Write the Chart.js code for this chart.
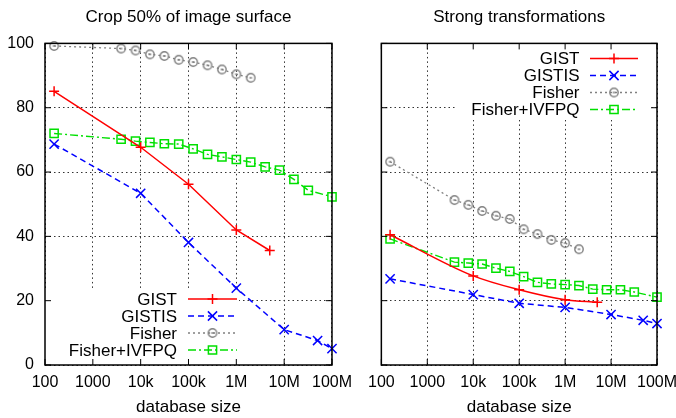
<!DOCTYPE html>
<html>
<head>
<meta charset="utf-8">
<script src="https://cdn.jsdelivr.net/npm/chart.js@4/dist/chart.umd.min.js"></script>
<style>
  html, body { margin: 0; padding: 0; background: #fff; overflow: hidden; }
  #wrap { position: relative; width: 676px; height: 418px; overflow: hidden; }
  .panel { position: absolute; top: 0; height: 418px; }
</style>
</head>
<body>
<div id="wrap">
  <div class="panel" style="left:0;width:360px"><canvas id="leftChart"></canvas></div>
  <div class="panel" style="left:360px;width:330px"><canvas id="rightChart"></canvas></div>
</div>
<script>
// Axis ticks
const xTickValues = [1e2, 1e3, 1e4, 1e5, 1e6, 1e7, 1e8];
const xTickLabels = ['100', '1000', '10k', '100k', '1M', '10M', '100M'];
const yTickValues = [0, 20, 40, 60, 80, 100];

// Database sizes per series
const gistSizes = [155, 10000, 100000, 1000000, 5000000];
const gistisSizes = [155, 10000, 100000, 1000000, 10000000, 50000000, 100000000];
const fisherSizes = [155, 3900, 7800, 15600, 31250, 62500, 125000, 250000, 500000, 1000000, 2000000];
const ivfpqSizes = [155, 3900, 7800, 15600, 31250, 62500, 125000, 250000, 500000, 1000000, 2000000,
                    4000000, 8000000, 16000000, 32000000, 100000000];

// Crop 50% of image surface
const gistCrop = [85.1, 67.7, 56.2, 42.0, 35.6];
const gistisCrop = [68.7, 53.4, 38.1, 23.9, 11.0, 7.6, 5.1];
const fisherCrop = [99.2, 98.4, 97.8, 96.6, 96.1, 94.9, 94.2, 93.2, 91.9, 90.4, 89.3];
const ivfpqCrop = [72.0, 70.2, 69.6, 69.2, 68.8, 68.7, 67.2, 65.5, 64.7, 63.9, 63.1, 61.6, 60.6, 57.7, 54.3, 52.3];

// Strong transformations
const gistStrong = [40.5, 27.7, 23.4, 20.3, 19.5];
const gistisStrong = [26.8, 21.9, 19.2, 17.9, 15.7, 13.9, 12.9];
const fisherStrong = [63.2, 51.3, 49.8, 47.9, 46.4, 45.4, 42.2, 40.7, 38.9, 37.9, 36.0];
const ivfpqStrong = [39.2, 32.0, 31.7, 31.4, 30.1, 29.1, 27.5, 25.7, 25.2, 25.0, 24.7, 23.6, 23.4, 23.4, 22.7, 21.1];

const seriesNames = ['GIST', 'GISTIS', 'Fisher', 'Fisher+IVFPQ'];

const FONT = 'Liberation Sans, Arial, Helvetica, sans-serif';

// open circle with a little dash inside, like gnuplot's point type
const circleMark = document.createElement('canvas');
circleMark.width = 12; circleMark.height = 12;
(function () {
    const c = circleMark.getContext('2d');
    c.strokeStyle = '#808080';
    c.lineWidth = 1.4;
    c.beginPath(); c.arc(6, 6, 4.2, 0, Math.PI * 2); c.stroke();
    c.beginPath(); c.moveTo(4.6, 6); c.lineTo(7.4, 6); c.stroke();
})();

const seriesStyle = [
    { borderColor: '#ff0000', borderWidth: 1.5, borderDash: [], pointStyle: 'cross', pointRadius: 5 },
    { borderColor: '#0000ff', borderWidth: 1.5, borderDash: [6, 4], pointStyle: 'crossRot', pointRadius: 6.5 },
    { borderColor: '#808080', borderWidth: 1.3, borderDash: [2, 3], pointStyle: circleMark, pointRadius: 5 },
    { borderColor: '#00e000', borderWidth: 1.4, borderDash: [8, 3, 2, 3], pointStyle: 'rect', pointRadius: 5.8 }
];

function toPoints(xs, ys) {
    return xs.map((x, i) => ({ x: x, y: ys[i] }));
}

function makeDatasets(values, smoothRed) {
    const sizes = [gistSizes, gistisSizes, fisherSizes, ivfpqSizes];
    return seriesNames.map((name, i) => Object.assign({
        label: name,
        data: toPoints(sizes[i], values[i]),
        backgroundColor: 'rgba(0,0,0,0)',
        pointBorderColor: seriesStyle[i].borderColor,
        pointBorderWidth: 1.5,
        pointBackgroundColor: 'rgba(0,0,0,0)',
        fill: false,
        clip: false,
        cubicInterpolationMode: (smoothRed && i === 0) ? 'monotone' : 'default'
    }, seriesStyle[i]));
}

// gnuplot-like frame, inward tics, and key drawn inside the plot
const panelDecor = {
    id: 'panelDecor',
    beforeDatasetsDraw(chart, args, opts) {
        const ctx = chart.ctx;
        const m = opts.mask;
        ctx.save();
        ctx.fillStyle = '#fff';
        ctx.fillRect(m[0], m[1], m[2] - m[0], m[3] - m[1]);
        ctx.restore();
    },
    afterDatasetsDraw(chart, args, opts) {
        const ctx = chart.ctx;
        const k = opts.key;
        ctx.save();
        ctx.font = '17px ' + FONT;
        ctx.textAlign = 'right';
        ctx.textBaseline = 'middle';
        chart.data.datasets.forEach((ds, i) => {
            const y = k.y + i * k.step;
            ctx.fillStyle = '#000';
            ctx.fillText(ds.label, k.textRight, y + 1);
            ctx.strokeStyle = ds.borderColor;
            ctx.lineWidth = ds.borderWidth;
            ctx.setLineDash(ds.borderDash);
            ctx.beginPath();
            ctx.moveTo(k.lineFrom, y);
            ctx.lineTo(k.lineTo, y);
            ctx.stroke();
            ctx.setLineDash([]);
            ctx.lineWidth = 1.5;
            ctx.fillStyle = 'rgba(0,0,0,0)';
            Chart.helpers.drawPoint(ctx, {
                pointStyle: ds.pointStyle, radius: ds.pointRadius, rotation: 0, borderWidth: 1.5
            }, (k.lineFrom + k.lineTo) / 2, y);
        });
        ctx.restore();
    },
    afterDraw(chart) {
        const ctx = chart.ctx;
        const a = chart.chartArea;
        const xs = chart.scales.x, ys = chart.scales.y;
        const len = 6;
        ctx.save();
        ctx.strokeStyle = '#000';
        ctx.lineWidth = 1;
        ctx.beginPath();
        xTickValues.forEach(v => {
            const px = xs.getPixelForValue(v);
            ctx.moveTo(px, a.bottom); ctx.lineTo(px, a.bottom - len);
            ctx.moveTo(px, a.top); ctx.lineTo(px, a.top + len);
        });
        yTickValues.forEach(v => {
            const py = ys.getPixelForValue(v);
            ctx.moveTo(a.left, py); ctx.lineTo(a.left + len, py);
            ctx.moveTo(a.right, py); ctx.lineTo(a.right - len, py);
        });
        ctx.stroke();
        ctx.lineWidth = 1.5;
        ctx.strokeRect(a.left, a.top, a.right - a.left, a.bottom - a.top);
        ctx.restore();
    }
};

function makeChart(id, title, values, showY, yWidth, padRight, smoothRed, decor) {
    return new Chart(document.getElementById(id), {
        type: 'line',
        data: { datasets: makeDatasets(values, smoothRed) },
        plugins: [panelDecor],
        options: {
            responsive: true,
            maintainAspectRatio: false,
            animation: false,
            events: [],
            layout: { padding: { left: 0, right: padRight, top: 0, bottom: 0 } },
            plugins: {
                legend: { display: false },
                tooltip: { enabled: false },
                title: {
                    display: true,
                    text: title,
                    fullSize: false,
                    color: '#000',
                    font: { family: FONT, size: 17, weight: 'normal' },
                    padding: { top: 7, bottom: 16 }
                },
                panelDecor: decor
            },
            scales: {
                x: {
                    type: 'logarithmic',
                    min: 100,
                    max: 100000000,
                    afterBuildTicks: s => { s.ticks = xTickValues.map(v => ({ value: v })); },
                    afterFit: s => { s.height = 53; },
                    ticks: {
                        autoSkip: false,
                        maxRotation: 0,
                        padding: 8,
                        color: '#000',
                        font: { family: FONT, size: 16 },
                        callback: v => xTickLabels[xTickValues.indexOf(v)]
                    },
                    grid: { color: '#333', lineWidth: 1, drawTicks: false },
                    border: { display: false, dash: [1.5, 3] },
                    title: {
                        display: true,
                        text: 'database size',
                        color: '#000',
                        font: { family: FONT, size: 17 },
                        padding: { top: 0, bottom: 0 }
                    }
                },
                y: {
                    min: 0,
                    max: 100,
                    afterBuildTicks: s => { s.ticks = yTickValues.map(v => ({ value: v })); },
                    afterFit: s => { s.width = yWidth; },
                    ticks: {
                        display: showY,
                        padding: 11,
                        color: '#000',
                        font: { family: FONT, size: 16 }
                    },
                    grid: { color: '#333', lineWidth: 1, drawTicks: false },
                    border: { display: false, dash: [1.5, 3] }
                }
            }
        }
    });
}

makeChart('leftChart', 'Crop 50% of image surface',
    [gistCrop, gistisCrop, fisherCrop, ivfpqCrop], true, 45, 26, false,
    { mask: [45, 289, 239, 365], key: { y: 299, step: 17, textRight: 177, lineFrom: 188, lineTo: 237 } });

makeChart('rightChart', 'Strong transformations',
    [gistStrong, gistisStrong, fisherStrong, ivfpqStrong], false, 20, 33, true,
    { mask: [97, 43, 292, 120], key: { y: 58.5, step: 17, textRight: 219.5, lineFrom: 230, lineTo: 278 } });
</script>
</body>
</html>
